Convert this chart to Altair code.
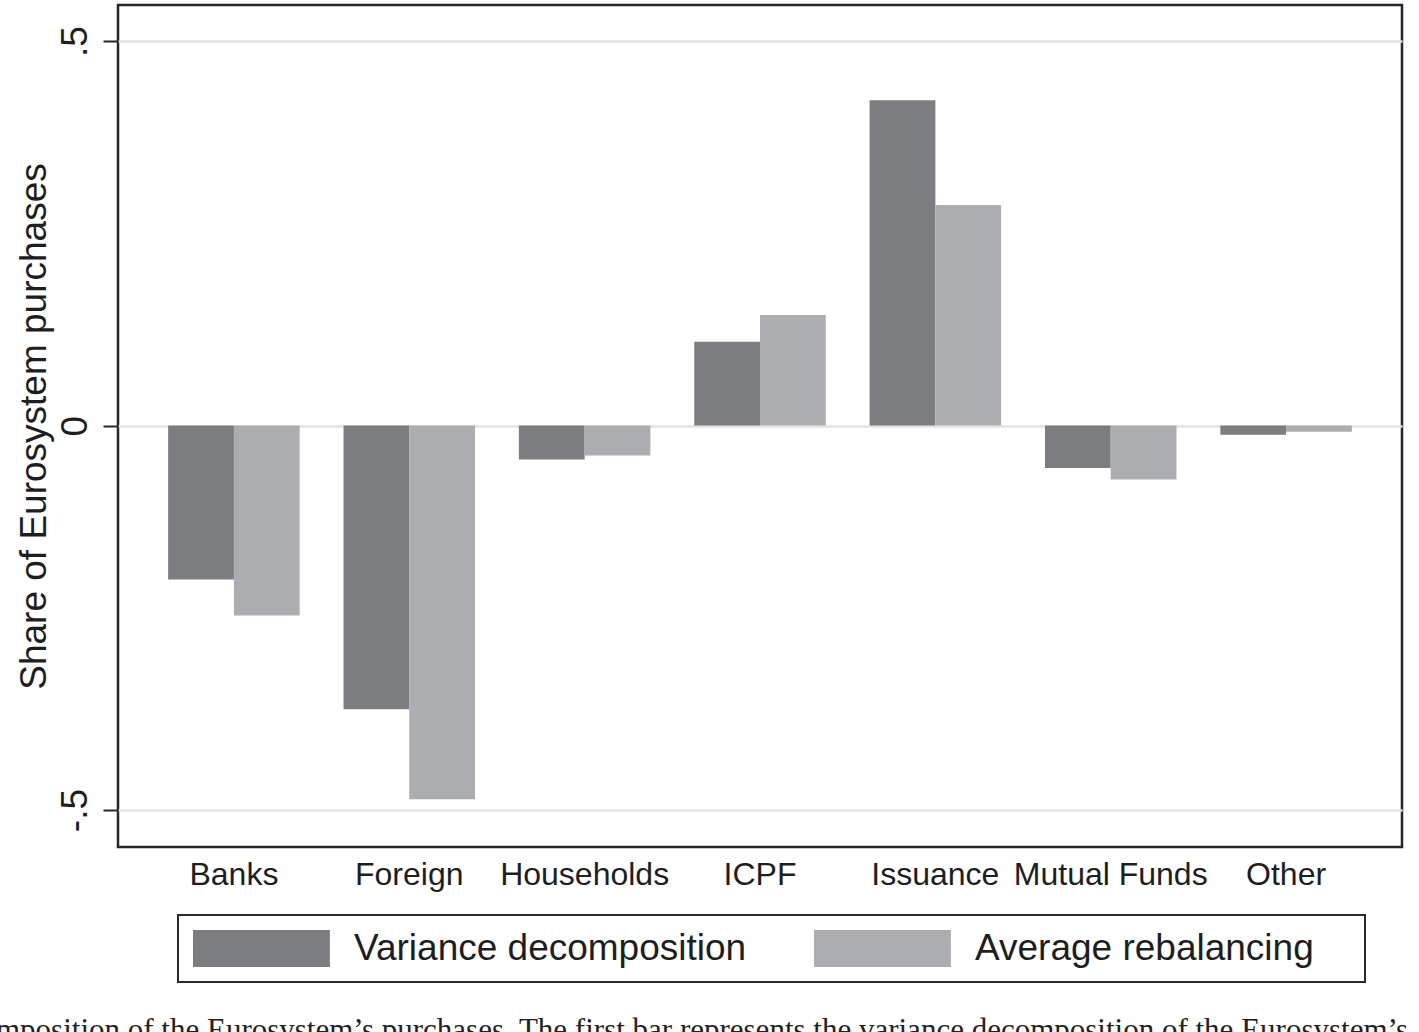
import altair as alt
import pandas as pd

categories = ["Banks", "Foreign", "Households", "ICPF", "Issuance", "Mutual Funds", "Other"]
series_names = ["Variance decomposition", "Average rebalancing"]
variance_decomposition = [-0.200, -0.369, -0.044, 0.109, 0.423, -0.055, -0.012]
average_rebalancing = [-0.247, -0.486, -0.039, 0.144, 0.287, -0.070, -0.008]
y_ticks = [-0.5, 0, 0.5]
y_tick_labels = ["-.5", "0", ".5"]
series_colors = ["#7c7d81", "#acadb1"]
y_title = "Share of Eurosystem purchases"
caption = ("mposition of the Eurosystem\u2019s purchases. The first bar represents "
           "the variance decomposition of the Eurosystem\u2019s")

rows = []
for c, v1, v2 in zip(categories, variance_decomposition, average_rebalancing):
    rows.append({"category": c, "series": series_names[0], "value": v1})
    rows.append({"category": c, "series": series_names[1], "value": v2})
df = pd.DataFrame(rows)

ylabel_expr = " : ".join(
    [f"datum.value == {v} ? '{l}'" for v, l in zip(y_ticks, y_tick_labels)]
) + " : ''"

FONT = "Liberation Sans"
INK = "#1e1e1e"

bars = alt.Chart(df).mark_bar(strokeWidth=0).encode(
    x=alt.X(
        "category:N", sort=categories,
        scale=alt.Scale(paddingInner=0.25, paddingOuter=0.286),
        axis=alt.Axis(
            title=None, labelAngle=0, labelFontSize=32, labelFont=FONT, labelColor=INK,
            ticks=False, tickSize=0, domain=False, grid=False, labelPadding=37,
            labelBaseline="alphabetic", labelLimit=500, labelOverlap=False,
        ),
    ),
    xOffset=alt.XOffset("series:N", sort=series_names,
                        scale=alt.Scale(paddingInner=0, paddingOuter=0)),
    y=alt.Y(
        "value:Q",
        scale=alt.Scale(domain=[-0.548, 0.547], nice=False),
        axis=alt.Axis(
            title=y_title, values=y_ticks, labelExpr=ylabel_expr,
            labelAngle=270, labelAlign="center", labelBaseline="alphabetic",
            labelFontSize=37, labelFont=FONT, labelColor=INK, labelPadding=17,
            tickSize=15, tickWidth=2, tickColor="#262626", domain=False,
            grid=True, gridColor="#e2e2e2", gridWidth=2.5,
            titleFont=FONT, titleFontSize=37, titleFontWeight="normal", titleColor=INK,
            titleAngle=270, titleX=-73, titleY=421, titleBaseline="alphabetic",
            titleAlign="center",
        ),
    ),
    color=alt.Color(
        "series:N", sort=series_names,
        scale=alt.Scale(domain=series_names, range=series_colors),
        legend=alt.Legend(
            title="\u00a0", titleOrient="right", titlePadding=36, titleFontSize=25,
            titleColor="white",
            orient="none", legendX=60, legendY=910, direction="horizontal",
            symbolType="M-1,-1H6.4V1H-1Z", symbolSize=1369, symbolStrokeWidth=0,
            symbolOpacity=1,
            labelFont=FONT, labelFontSize=37, labelColor=INK, labelOffset=124,
            labelLimit=800, columnPadding=67, padding=15, strokeColor="#2a2a2a",
        ),
    ),
)

cap = alt.Chart(pd.DataFrame({"t": [caption]})).mark_text(
    align="left", baseline="alphabetic", font="Liberation Serif", fontSize=31, color="#222222"
).encode(text="t:N", x=alt.value(-122), y=alt.value(1035))

chart = alt.layer(bars, cap).properties(
    width=1284, height=842,
    autosize=alt.AutoSizeParams(type="none"),
    padding={"left": 118, "top": 5, "right": 17, "bottom": 185},
    background="white",
).configure_view(
    stroke="#262626", strokeWidth=2.5
).configure_legend(
    strokeWidth=2
)

chart.save("out.html", embed_options={"renderer": "svg", "actions": False})
